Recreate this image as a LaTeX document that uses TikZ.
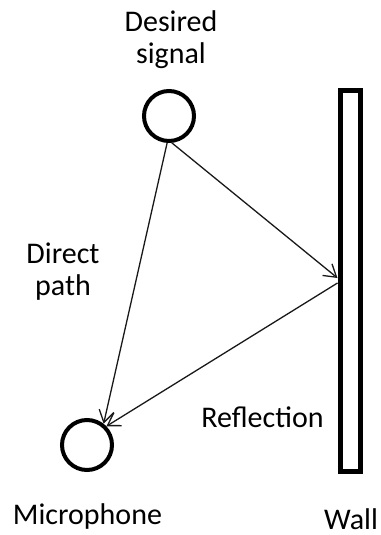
\documentclass[tikz,border=0pt]{standalone}
\usepackage{fontspec}
\setmainfont{Carlito}
\usetikzlibrary{arrows.meta,calc}
\begin{document}
\begin{tikzpicture}[x=1pt,y=-1pt,
  lbl/.style={font=\fontsize{30}{32}\selectfont, inner sep=0pt, text=black},
  src/.style={circle, draw=black, line width=4pt, minimum size=50pt, inner sep=0pt},
  wallbox/.style={rectangle, draw=black, line width=5pt, minimum width=20pt, minimum height=381pt, inner sep=0pt},
  ray/.style={draw=black!90, line width=1.3pt, -{Straight Barb[length=12pt,width=15pt,line width=1.3pt]}}]
\useasboundingbox (0,0) rectangle (380,535);
\node[src] (source) at (169,116) {};
\node[src] (mic) at (87,445) {};
\node[wallbox] (wall) at (350,280.5) {};
\coordinate (hitin) at ($(wall.west)+(0,-2.5)$);
\coordinate (hitout) at ($(wall.west)+(0,2.5)$);
\draw[ray] (source.-94) -- (mic.52);
\draw[ray] (source.-84) -- (hitin);
\draw[ray] (hitout) -- (mic.44);
\node[lbl, align=center] (tdes) at (171,40) {Desired\\signal};
\node[lbl, align=center] (tdir) at (63,272) {Direct\\path};
\node[lbl, anchor=base] (tref) at (262.5,427) {Reflection};
\node[lbl, anchor=base] (tmic) at (87.5,524) {Microphone};
\node[lbl, anchor=base] (twall) at (351,529) {Wall};
\end{tikzpicture}
\end{document}
